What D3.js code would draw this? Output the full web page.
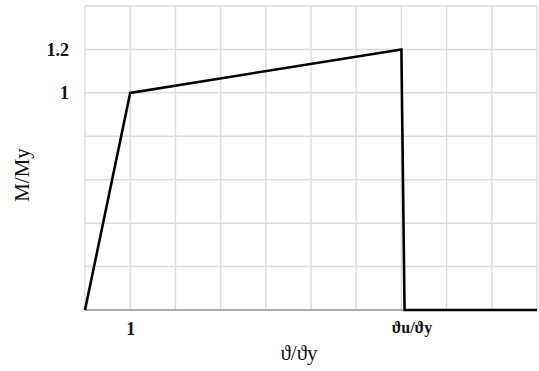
<!DOCTYPE html>
<html>
<head>
<meta charset="utf-8">
<script src="https://cdn.jsdelivr.net/npm/d3@7/dist/d3.min.js"></script>
<style>
  html, body { margin: 0; padding: 0; background: #fff; }
  svg { display: block; }
  text { font-family: "Liberation Serif", "DejaVu Serif", serif; fill: #111; }
</style>
</head>
<body>
<svg id="chart" width="539" height="371"></svg>
<script>
// Moment–rotation backbone curve (normalised)
const rotation = [0, 1, 7, 7.07, 10];      // ϑ/ϑy
const moment   = [0, 1, 1.2, 0, 0];        // M/My

// Axis ticks that carry labels
const xTickValues = [1, 7];
const xTickLabels = ["1", "ϑu/ϑy"];
const yTickValues = [1, 1.2];
const yTickLabels = ["1", "1.2"];

// Grid lines
const xGrid = d3.range(0, 11, 1);
const yGrid = d3.range(0, 1.41, 0.2);

const width = 539, height = 371;
const margin = { top: 6, right: 2, bottom: 61, left: 85 };

const svg = d3.select("#chart");
const x = d3.scaleLinear().domain([0, 10]).range([margin.left, width - margin.right]);
const y = d3.scaleLinear().domain([0, 1.4]).range([height - margin.bottom, margin.top]);

// grid
svg.append("g")
  .selectAll("line")
  .data(xGrid)
  .join("line")
  .attr("x1", d => x(d)).attr("x2", d => x(d))
  .attr("y1", y(0)).attr("y2", y(1.4))
  .attr("stroke", "#dcdcdc").attr("stroke-width", 1.5);

svg.append("g")
  .selectAll("line")
  .data(yGrid)
  .join("line")
  .attr("x1", x(0)).attr("x2", x(10))
  .attr("y1", d => y(d)).attr("y2", d => y(d))
  .attr("stroke", "#dcdcdc").attr("stroke-width", 1.5);

// bottom axis line
svg.append("line")
  .attr("x1", x(0)).attr("x2", x(10))
  .attr("y1", y(0)).attr("y2", y(0))
  .attr("stroke", "#9a9a9a").attr("stroke-width", 1.5);

// x tick labels
const xAxis = d3.axisBottom(x)
  .tickValues(xTickValues)
  .tickFormat((d, i) => xTickLabels[i])
  .tickSize(0)
  .tickPadding(12);
const gx = svg.append("g")
  .attr("transform", `translate(0,${y(0)})`)
  .call(xAxis);
gx.select(".domain").remove();
gx.selectAll("text")
  .attr("font-size", (d, i) => i === 1 ? 16 : 18)
  .attr("font-weight", "bold")
  .attr("dx", (d, i) => i === 1 ? 10 : 0)
  .style("font-family", "'Liberation Serif', serif");

// y tick labels
const yAxis = d3.axisLeft(y)
  .tickValues(yTickValues)
  .tickFormat((d, i) => yTickLabels[i])
  .tickSize(0)
  .tickPadding(16);
const gy = svg.append("g")
  .attr("transform", `translate(${x(0)},0)`)
  .call(yAxis);
gy.select(".domain").remove();
gy.selectAll("text")
  .attr("font-size", 18)
  .attr("font-weight", "bold")
  .style("font-family", "'Liberation Serif', serif");

// curve
const pts = rotation.map((r, i) => [r, moment[i]]);
svg.append("path")
  .datum(pts)
  .attr("fill", "none")
  .attr("stroke", "#000")
  .attr("stroke-width", 2.6)
  .attr("stroke-linejoin", "miter")
  .attr("d", d3.line().x(d => x(d[0])).y(d => y(d[1])));

// axis titles
svg.append("text")
  .attr("x", 299).attr("y", 360)
  .attr("text-anchor", "middle")
  .attr("font-size", 21)
  .text("ϑ/ϑy");

svg.append("text")
  .attr("transform", "translate(29,175) rotate(-90)")
  .attr("text-anchor", "middle")
  .attr("font-size", 21)
  .text("M/My");
</script>
</body>
</html>
